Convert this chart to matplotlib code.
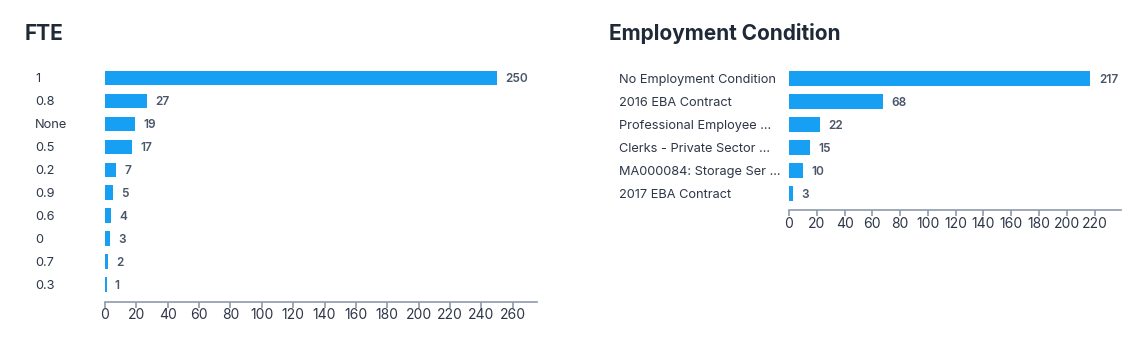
import matplotlib
matplotlib.use("Agg")
import matplotlib.pyplot as plt

plt.rcParams['font.family'] = ['Inter', 'DejaVu Sans']

# FTE chart
fte_labels = ["1", "0.8", "None", "0.5", "0.2", "0.9", "0.6", "0", "0.7", "0.3"]
fte_counts = [250, 27, 19, 17, 7, 5, 4, 3, 2, 1]

# Employment condition chart
cond_labels = ["No Employment Condition", "2016 EBA Contract", "Professional Employee ...",
               "Clerks - Private Sector ...", "MA000084: Storage Ser ...", "2017 EBA Contract"]
cond_counts = [217, 68, 22, 15, 10, 3]

BAR = "#179ff4"
TXT = "#2d3748"
VAL = "#4a5568"
AXIS = "#8f99aa"

fig = plt.figure(figsize=(11.34, 3.48), dpi=100)
W, H = 1134, 348


def bar_panel(rect, labels, counts, xmax, step, label_pad, title, title_xy):
    ax = fig.add_axes(rect)
    y = list(range(len(labels)))
    ax.barh(y, counts, height=0.65, color=BAR, edgecolor="none")
    for yi, v in zip(y, counts):
        ax.annotate(str(v), (v, yi), xytext=(6, 0), textcoords="offset points",
                    va="center_baseline", ha="left", fontsize=8.5,
                    fontweight="semibold", color=VAL)
    ax.set_xlim(0, xmax)
    ax.set_ylim(len(labels) - 1 + 0.72, -0.5)
    ax.set_xticks(range(0, int(xmax) + 1, step))
    ax.set_yticks(y)
    ax.set_yticklabels(labels, ha="left", fontsize=9.2, color=TXT)
    ax.tick_params(axis="y", length=0, pad=label_pad)
    ax.tick_params(axis="x", length=4, width=1.2, color=AXIS, labelsize=10,
                   labelcolor=TXT, pad=1)
    for s in ["top", "right", "left"]:
        ax.spines[s].set_visible(False)
    ax.spines["bottom"].set_color(AXIS)
    ax.spines["bottom"].set_linewidth(1.2)
    fig.text(title_xy[0] / W, 1 - title_xy[1] / H, title, fontsize=15,
             fontweight="bold", color="#1f2937", va="center", ha="left")
    return ax


bar_panel([105 / W, 1 - 301.5 / H, 432 / W, 235 / H], fte_labels, fte_counts,
          275.5, 20, 70 * 0.72, "FTE", (25, 34))
bar_panel([789 / W, 1 - 210 / H, 332 / W, 143.5 / H], cond_labels, cond_counts,
          239, 20, 170 * 0.72, "Employment Condition", (609, 34))

fig.savefig("out.png", dpi=100)
